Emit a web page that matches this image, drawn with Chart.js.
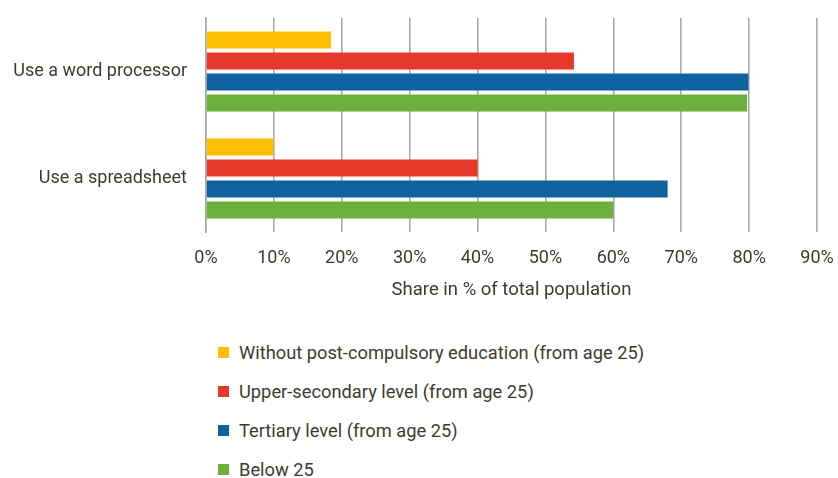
<!DOCTYPE html>
<html>
<head>
<meta charset="utf-8">
<script src="https://cdn.jsdelivr.net/npm/chart.js@4/dist/chart.umd.min.js"></script>
<style>
  html, body { margin: 0; padding: 0; background: #ffffff; }
  #wrap { position: relative; width: 838px; height: 478px; }
  #chartBox { position: absolute; left: 0; top: 0; width: 838px; height: 301px; }
  #legend { position: absolute; left: 218px; top: 340px; font-family: Roboto, sans-serif; font-size: 18.3px; color: #3d3b31; }
  #legend .item { display: flex; align-items: center; height: 24px; margin-bottom: 15px; }
  #legend .sw { width: 11px; height: 11px; margin-right: 10px; }
</style>
</head>
<body>
<div id="wrap">
  <div id="chartBox"><canvas id="c" width="838" height="301"></canvas></div>
  <div id="legend"></div>
</div>
<script>
// Categories (activities)
const categories = ['Use a word processor', 'Use a spreadsheet'];

// Series labels and values (share in %)
const seriesNames = [
  'Without post-compulsory education (from age 25)',
  'Upper-secondary level (from age 25)',
  'Tertiary level (from age 25)',
  'Below 25'
];
const withoutPostCompulsory = [18.4, 9.9];
const upperSecondary = [54.2, 40];
const tertiary = [79.9, 68];
const below25 = [79.7, 60];

const seriesColors = ['#FBBF00', '#E5392B', '#10629E', '#6AB03B'];
const seriesValues = [withoutPostCompulsory, upperSecondary, tertiary, below25];

// Axis ticks
const xTicks = [0, 10, 20, 30, 40, 50, 60, 70, 80, 90];
const xTitle = 'Share in % of total population';

const textColor = '#3d3b31';
const fontFamily = 'Roboto, sans-serif';

const datasets = seriesNames.map((name, i) => ({
  label: name,
  data: seriesValues[i],
  backgroundColor: seriesColors[i],
  borderWidth: 0,
  barPercentage: 0.82,
  categoryPercentage: 0.785
}));

new Chart(document.getElementById('c'), {
  type: 'bar',
  data: { labels: categories, datasets },
  options: {
    indexAxis: 'y',
    responsive: false,
    animation: false,
    layout: { padding: { top: 18, right: 0, left: 0, bottom: 0 } },
    plugins: {
      legend: { display: false },
      tooltip: { enabled: false }
    },
    scales: {
      x: {
        min: 0,
        max: 90,
        afterBuildTicks: (scale) => { scale.ticks = xTicks.map(v => ({ value: v })); },
        afterFit: (scale) => {
          scale.height = 69;
          scale.paddingLeft = 0;
          scale.paddingRight = 21;
        },
        ticks: {
          color: textColor,
          font: { family: fontFamily, size: 18 },
          padding: 16,
          callback: (v) => v + '%'
        },
        grid: { color: '#a9a9a5', lineWidth: 1.6, drawTicks: false },
        border: { display: false },
        title: {
          display: true,
          text: xTitle,
          color: textColor,
          font: { family: fontFamily, size: 18.5 },
          padding: { top: 9, bottom: 0 }
        }
      },
      y: {
        afterFit: (scale) => {
          scale.width = 206;
          scale.paddingTop = 0;
          scale.paddingBottom = 0;
        },
        ticks: {
          color: textColor,
          font: { family: fontFamily, size: 18 },
          padding: 19
        },
        grid: { display: false, drawTicks: false },
        border: { display: true, color: '#a9a9a5', width: 1.6 }
      }
    }
  }
});

// Vertical legend built from the series arrays
const legend = document.getElementById('legend');
seriesNames.forEach((name, i) => {
  const item = document.createElement('div');
  item.className = 'item';
  const sw = document.createElement('span');
  sw.className = 'sw';
  sw.style.background = seriesColors[i];
  const t = document.createElement('span');
  t.textContent = name;
  item.appendChild(sw);
  item.appendChild(t);
  legend.appendChild(item);
});
</script>
</body>
</html>
